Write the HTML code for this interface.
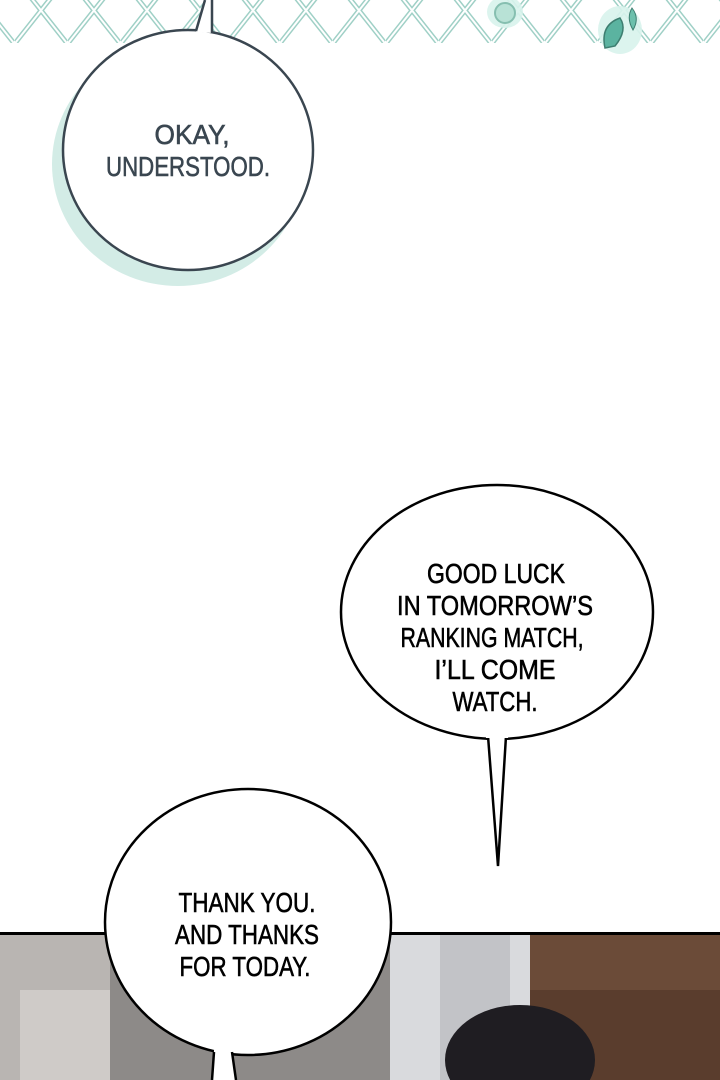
<!DOCTYPE html>
<html><head><style>
html,body{margin:0;padding:0;background:#fff;}
svg{display:block;}
text{font-family:"Liberation Sans",sans-serif;font-size:28px;text-anchor:middle;stroke-width:0.6;}
</style></head><body>
<svg width="720" height="1080" viewBox="0 0 720 1080" xmlns="http://www.w3.org/2000/svg">
<defs>
<pattern id="xx" width="53" height="48" patternUnits="userSpaceOnUse" x="14" y="-4">
<path d="M2 46 L40 -2 M14 -2 L52 46" stroke="#9fd0c6" stroke-width="5" fill="none"/>
<path d="M2 46 L40 -2 M14 -2 L52 46" stroke="#fff" stroke-width="2" fill="none"/>
</pattern>
</defs>
<rect x="0" y="0" width="720" height="43" fill="url(#xx)"/>
<ellipse cx="505" cy="12" rx="18" ry="16" fill="#d8f3ec" opacity="0.9"/>
<ellipse cx="505" cy="13" rx="10" ry="10" fill="#b8e2d6" stroke="#86bfb0" stroke-width="2"/>
<ellipse cx="620" cy="30" rx="22" ry="24" fill="#d8f3ec" opacity="0.9"/>
<path d="M605 48 Q600 25 620 18 Q628 30 615 46 Z" fill="#5bb3a0" stroke="#3d7e70" stroke-width="1.5"/>
<path d="M632 8 Q640 18 633 30 Q626 18 632 8Z" fill="#6cc0ac" stroke="#3d7e70" stroke-width="1"/>

<ellipse cx="178" cy="164" rx="126" ry="122" fill="#d3ece6"/>
<ellipse cx="188" cy="150" rx="125" ry="120" fill="#fff" stroke="#3a4650" stroke-width="2.5"/>
<path d="M196 32 L205 0 L212 0 L212 33 Z" fill="#fff"/>
<path d="M196 31 L205 0 M212 0 L212 33" stroke="#3a4650" stroke-width="2.5" fill="none"/>
<g fill="#3a4650" stroke="#3a4650">
<text x="192" y="144" textLength="75" lengthAdjust="spacingAndGlyphs">OKAY,</text>
<text x="188" y="176" textLength="164" lengthAdjust="spacingAndGlyphs">UNDERSTOOD.</text>
</g>

<ellipse cx="497" cy="612" rx="156" ry="127" fill="#fff" stroke="#000" stroke-width="2.5"/>
<path d="M488 736 L498 866 L506 736 Z" fill="#fff"/>
<path d="M488 736 L498 866 L506 736" stroke="#000" stroke-width="2.5" fill="none"/>
<rect x="486" y="728" width="22" height="10" fill="#fff"/>
<g fill="#000" stroke="#000">
<text x="496" y="583" textLength="138" lengthAdjust="spacingAndGlyphs">GOOD LUCK</text>
<text x="495" y="615" textLength="196" lengthAdjust="spacingAndGlyphs">IN TOMORROW’S</text>
<text x="492" y="647" textLength="183" lengthAdjust="spacingAndGlyphs">RANKING MATCH,</text>
<text x="495" y="679" textLength="121" lengthAdjust="spacingAndGlyphs">I’LL COME</text>
<text x="495" y="711" textLength="85" lengthAdjust="spacingAndGlyphs">WATCH.</text>
</g>

<rect x="0" y="934" width="720" height="146" fill="#8d8a88"/>
<rect x="0" y="934" width="110" height="146" fill="#b9b5b2"/>
<rect x="20" y="990" width="90" height="90" fill="#cfcbc8"/>
<rect x="390" y="934" width="150" height="146" fill="#d9dadd"/>
<rect x="440" y="934" width="70" height="146" fill="#c2c3c7"/>
<rect x="530" y="934" width="190" height="146" fill="#6b4b38"/>
<rect x="530" y="990" width="190" height="90" fill="#5a3d2d"/>
<ellipse cx="520" cy="1060" rx="75" ry="55" fill="#1f1d22"/>
<rect x="0" y="932" width="720" height="3" fill="#000"/>

<ellipse cx="248" cy="922" rx="143" ry="133" fill="#fff" stroke="#000" stroke-width="2.5"/>
<path d="M214 1050 L212 1080 L236 1080 L232 1050 Z" fill="#fff"/>
<path d="M214 1052 L212 1080 M236 1080 L232 1052" stroke="#000" stroke-width="2.5"/>
<g fill="#000" stroke="#000">
<text x="247" y="912" textLength="137" lengthAdjust="spacingAndGlyphs">THANK YOU.</text>
<text x="247" y="944" textLength="144" lengthAdjust="spacingAndGlyphs">AND THANKS</text>
<text x="245" y="976" textLength="131" lengthAdjust="spacingAndGlyphs">FOR TODAY.</text>
</g>
</svg>
</body></html>
